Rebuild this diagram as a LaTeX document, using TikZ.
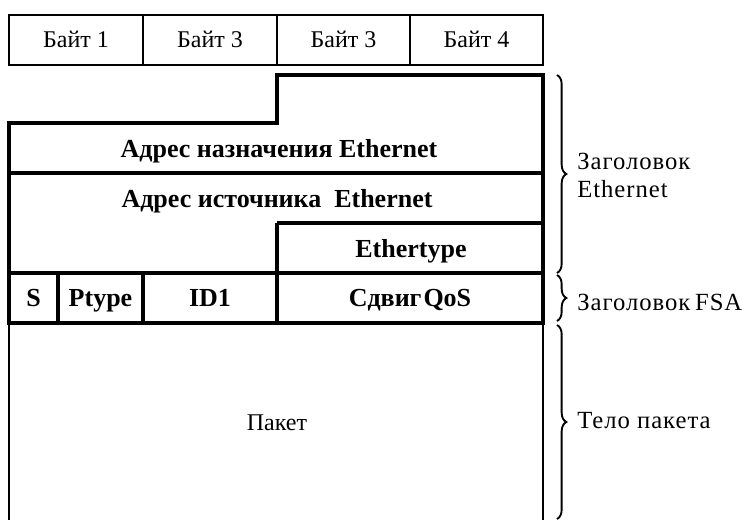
\documentclass[tikz,border=0pt]{standalone}
\usepackage{fontspec}
\setmainfont{Liberation Serif}
\newfontfamily\widefont{Liberation Serif}[LetterSpace=4]
\usetikzlibrary{decorations.pathreplacing}
\begin{document}
\begin{tikzpicture}[x=0.75pt,y=-0.75pt,
  thin line/.style={line width=0.9pt},
  thick line/.style={line width=2.4pt},
  cell/.style={font=\fontsize{18}{21}\selectfont, anchor=base, inner sep=0pt},
  field/.style={font=\bfseries\fontsize{19.5}{22}\selectfont, anchor=base, inner sep=0pt},
  side/.style={font=\widefont\fontsize{18.5}{21}\selectfont, anchor=base west, inner sep=0pt},
  curly/.style={decorate, decoration={brace, amplitude=7pt}, line width=1.4pt}]
\useasboundingbox (0,0) rectangle (745,519);

% byte ruler
\draw[thin line] (9,15) rectangle (543,65);
\foreach \x in {143,277,410} \draw[thin line] (\x,15) -- (\x,65);
\node[cell] (b1) at (76,47) {Байт 1};
\node[cell] (b2) at (210,47) {Байт 3};
\node[cell] (b3) at (343.5,47) {Байт 3};
\node[cell] (b4) at (476.5,47) {Байт 4};

% packet body (thin frame, open at the bottom)
\draw[thin line] (9,323) -- (9,530);
\draw[thin line] (543,323) -- (543,530);
\node[cell] (body) at (277,430) {Пакет};

% Ethernet + FSA headers
\draw[thick line] (277,75) -- (543,75) -- (543,323) -- (9,323) -- (9,123) -- (277,123) -- cycle;
\draw[thick line] (9,173) -- (543,173);
\draw[thick line] (277,223) -- (543,223);
\draw[thick line] (277,223) -- (277,273);
\draw[thick line] (9,273) -- (543,273);
\foreach \x in {58,143,277} \draw[thick line] (\x,273) -- (\x,323);

\node[field] (dst) at (279,157) {Адрес назначения Ethernet};
\node[field] (src) at (277,207) {Адрес источника\ \ Ethernet};
\node[field] (etype) at (411,257) {Ethertype};
\node[field] (s) at (33.5,306) {S};
\node[field] (ptype) at (100.5,306) {Ptype};
\node[field] (id1) at (210,306) {ID1};
\node[field] (qos) at (410,306) {Сдвиг\kern1.5pt QoS};

% braces and their labels
\coordinate (e1) at (557,75);
\coordinate (e2) at (557,273);
\coordinate (f1) at (557,275);
\coordinate (f2) at (557,321);
\coordinate (p1) at (557,325);
\coordinate (p2) at (557,519);
\draw[curly] (e1) -- (e2);
\draw[curly] (f1) -- (f2);
\draw[curly] (p1) -- (p2);
\node[side] (lab-eth1) at (577,169) {Заголовок};
\node[side] (lab-eth2) at (577,197) {Ethernet};
\node[side] (lab-fsa) at (577,310) {Заголовок\kern3.5pt FSA};
\node[side] (lab-body) at (577,428) {Тело пакета};
\end{tikzpicture}
\end{document}
